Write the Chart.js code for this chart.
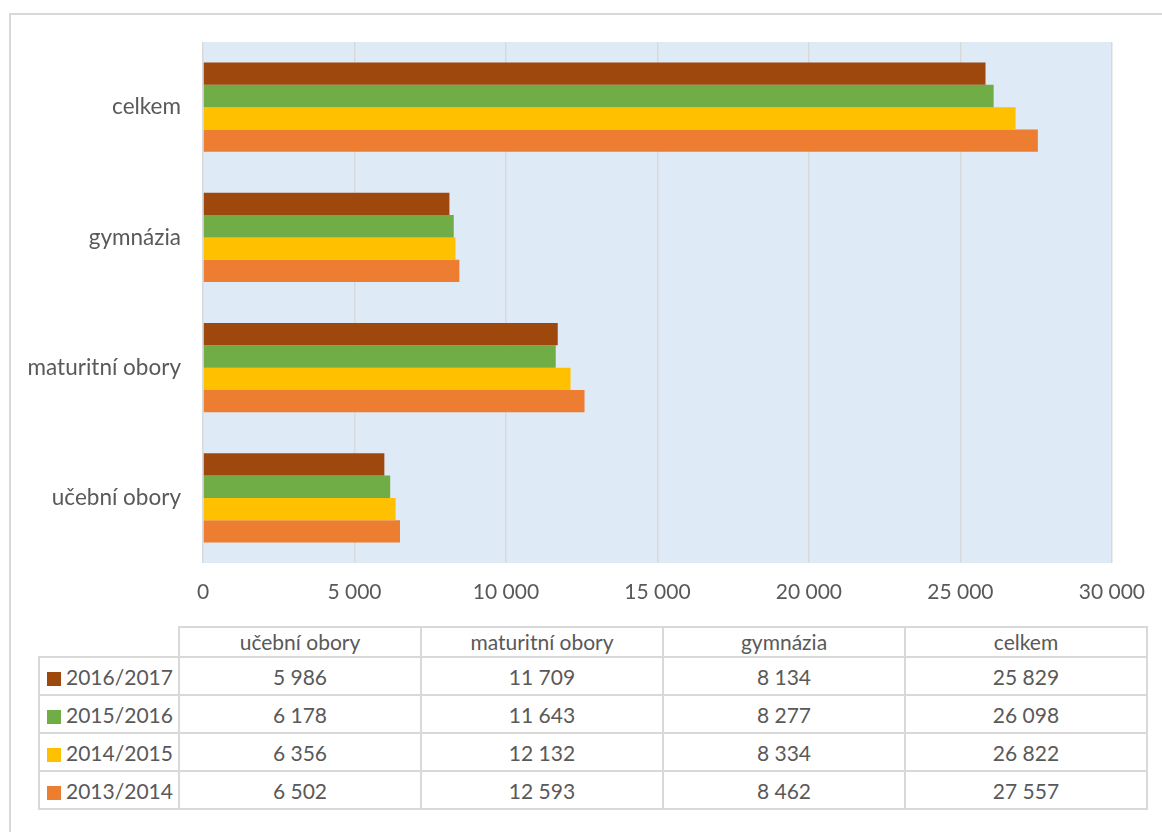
<!DOCTYPE html>
<html>
<head>
<meta charset="utf-8">
<script src="https://cdn.jsdelivr.net/npm/chart.js@4"></script>
<style>
  body { margin: 0; background: #fff; font-family: "Lato", sans-serif; }
  #frame { position: absolute; left: 9px; top: 13px; width: 1200px; height: 900px; border: 2px solid #d9d9d9; }
  #wrap { position: absolute; left: 0; top: 0; width: 1162px; height: 620px; }
  #tbl { position: absolute; left: 38px; top: 626px; border-collapse: collapse; color: #595959; font-size: 21px; }
  #tbl td { border: 2px solid #d9d9d9; text-align: center; padding: 0; }
  #tbl tr.head td { height: 28px; line-height: 28px; }
  #tbl tr.row td { height: 36px; }
  #tbl td.key { text-align: left; padding-left: 7px; width: 131px; }
  #tbl td.val { width: 240px; }
  #tbl td.blank { border: none; }
  .sw { display: inline-block; width: 14px; height: 14px; margin-right: 5px; vertical-align: -1px; }
</style>
</head>
<body>
<div id="frame"></div>
<div id="wrap"><canvas id="chart"></canvas></div>
<table id="tbl"></table>
<script>
// kategorie v pořadí tabulky
const categories = ['učební obory', 'maturitní obory', 'gymnázia', 'celkem'];
const seriesNames = ['2016/2017', '2015/2016', '2014/2015', '2013/2014'];
const seriesColors = ['#9e480e', '#70ad47', '#ffc000', '#ed7d31'];

const s2016 = [5986, 11709, 8134, 25829];
const s2015 = [6178, 11643, 8277, 26098];
const s2014 = [6356, 12132, 8334, 26822];
const s2013 = [6502, 12593, 8462, 27557];
const seriesValues = [s2016, s2015, s2014, s2013];

const xTicks = [0, 5000, 10000, 15000, 20000, 25000, 30000];

function fmt(v) {
  return String(v).replace(/\B(?=(\d{3})+(?!\d))/g, ' ');
}

// pozadí plochy grafu
const plotBg = {
  id: 'plotBg',
  beforeDraw(chart) {
    const a = chart.chartArea;
    const ctx = chart.ctx;
    ctx.save();
    ctx.fillStyle = '#deeaf6';
    ctx.fillRect(a.left, a.top, a.right - a.left, a.bottom - a.top);
    ctx.restore();
  }
};

// graf má kategorie shora dolů obráceně
const chartLabels = categories.slice().reverse();

new Chart(document.getElementById('chart'), {
  type: 'bar',
  data: {
    labels: chartLabels,
    datasets: seriesNames.map((name, i) => ({
      label: name,
      data: seriesValues[i].slice().reverse(),
      backgroundColor: seriesColors[i],
      borderWidth: 0,
      categoryPercentage: 0.685,
      barPercentage: 1
    }))
  },
  options: {
    indexAxis: 'y',
    responsive: true,
    maintainAspectRatio: false,
    animation: false,
    layout: { padding: { top: 42, right: 48, left: 0, bottom: 0 } },
    plugins: { legend: { display: false }, tooltip: { enabled: false } },
    scales: {
      x: {
        min: 0,
        max: 30000,
        afterBuildTicks: s => { s.ticks = xTicks.map(v => ({ value: v })); },
        afterFit: s => { s.height = 57; },
        border: { display: false },
        grid: { color: '#d9d9d9', lineWidth: 1.5, drawTicks: false },
        ticks: {
          padding: 17,
          color: '#595959',
          font: { family: 'Lato', size: 21 },
          callback: v => fmt(v),
          maxRotation: 0
        }
      },
      y: {
        afterFit: s => { s.width = 203; },
        border: { display: false },
        grid: { display: false, drawTicks: false },
        ticks: {
          padding: 22,
          color: '#595959',
          font: { family: 'Lato', size: 22.5 }
        }
      }
    }
  },
  plugins: [plotBg]
});

// datová tabulka pod grafem
const tbl = document.getElementById('tbl');
let html = '<tr class="head"><td class="blank"></td>';
categories.forEach(c => { html += '<td class="val">' + c + '</td>'; });
html += '</tr>';
seriesNames.forEach((name, i) => {
  html += '<tr class="row"><td class="key"><span class="sw" style="background:' + seriesColors[i] + '"></span>' + name + '</td>';
  seriesValues[i].forEach(v => { html += '<td class="val">' + fmt(v) + '</td>'; });
  html += '</tr>';
});
tbl.innerHTML = html;
</script>
</body>
</html>
